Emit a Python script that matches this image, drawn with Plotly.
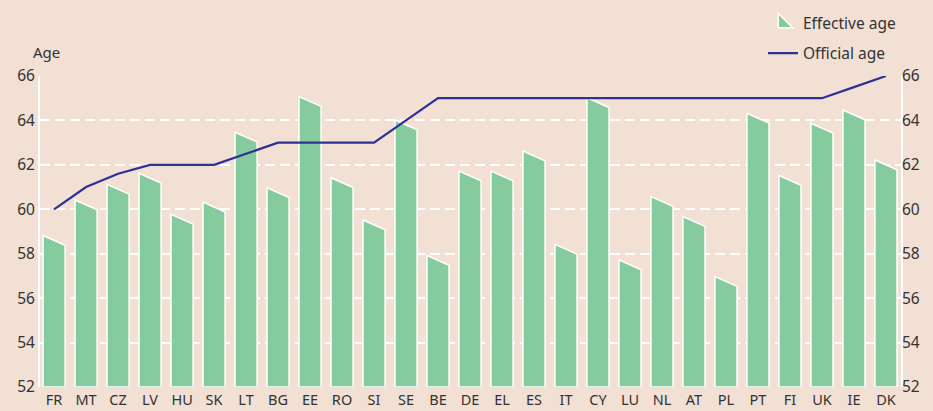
import plotly.graph_objects as go

countries = ["FR", "MT", "CZ", "LV", "HU", "SK", "LT", "BG", "EE", "RO", "SI", "SE", "BE", "DE",
             "EL", "ES", "IT", "CY", "LU", "NL", "AT", "PL", "PT", "FI", "UK", "IE", "DK"]
effective_age = [58.6, 60.2, 60.9, 61.4, 59.55, 60.1, 63.25, 60.75, 64.85, 61.2, 59.3, 63.8, 57.7, 61.5,
                 61.5, 62.4, 58.2, 64.8, 57.5, 60.35, 59.45, 56.75, 64.1, 61.3, 63.65, 64.25, 62.0]
official_age = [60, 61, 61.6, 62, 62, 62, 62.5, 63, 63, 63, 63, 64, 65, 65,
                65, 65, 65, 65, 65, 65, 65, 65, 65, 65, 65, 65.5, 66]
y_ticks = [52, 54, 56, 58, 60, 62, 64, 66]

BG = "#F2E0D5"
GREEN = "#86CB9D"
NAVY = "#2E3192"
TXT = "#333333"
FONT = "Noto Sans"

# slanted-top bars built as polygons on a numeric x axis
half = 0.345
slant = 0.22
base = 52
px, py = [], []
for i, v in enumerate(effective_age):
    px += [i - half, i - half, i + half, i + half, i - half, None]
    py += [base, v + slant, v - slant, base, base, None]

fig = go.Figure()

fig.add_trace(go.Scatter(x=px, y=py, mode="lines", fill="toself", fillcolor=GREEN,
                         line=dict(color="white", width=1.5), showlegend=False, hoverinfo="skip"))

fig.add_trace(go.Scatter(x=list(range(len(countries))), y=official_age, mode="lines",
                         line=dict(color=NAVY, width=2.2), name="Official age",
                         legendgroup="b", legendrank=2))

# legend swatch for the bars
fig.add_trace(go.Scatter(x=[None], y=[None], mode="markers", name="Effective age",
                         marker=dict(symbol="triangle-sw", size=20, color=GREEN,
                                     line=dict(color="white", width=1.5)),
                         legendgroup="a", legendrank=1))

fig.add_trace(go.Scatter(x=[None], y=[None], yaxis="y2", showlegend=False))

fig.update_layout(
    width=933, height=411,
    paper_bgcolor=BG, plot_bgcolor=BG,
    margin=dict(l=40, r=32, t=76, b=24, autoexpand=False),
    font=dict(family=FONT, size=15, color=TXT),
    showlegend=True,
    legend=dict(x=1.0, xanchor="right", y=1.224, yanchor="top", bgcolor="rgba(0,0,0,0)",
                font=dict(size=15.5, color=TXT), traceorder="grouped", tracegroupgap=7,
                itemwidth=30),
    xaxis=dict(range=[-0.44, 26.47], tickvals=list(range(len(countries))), ticktext=countries,
               showgrid=False, zeroline=False, showline=False, ticks="", ticklabelstandoff=2,
               tickfont=dict(size=14.5, color=TXT)),
    yaxis=dict(range=[52, 66], tickvals=y_ticks, showgrid=True, gridcolor="white",
               gridwidth=2, griddash="10px,5px", zeroline=False, showline=True, linecolor="white",
               linewidth=2, mirror=True, ticks="", tickfont=dict(size=15.5, color=TXT)),
    yaxis2=dict(range=[52, 66], tickvals=y_ticks, overlaying="y", side="right", showgrid=False,
                zeroline=False, showline=False, ticks="", tickfont=dict(size=15.5, color=TXT)),
    annotations=[dict(text="Age", xref="paper", yref="paper", x=-0.01, y=1.04,
                      xanchor="left", yanchor="bottom", showarrow=False,
                      font=dict(size=15, color=TXT))],
)

fig.write_html("out.html", config={"displayModeBar": False},
               post_script="document.body.style.margin='0';")
